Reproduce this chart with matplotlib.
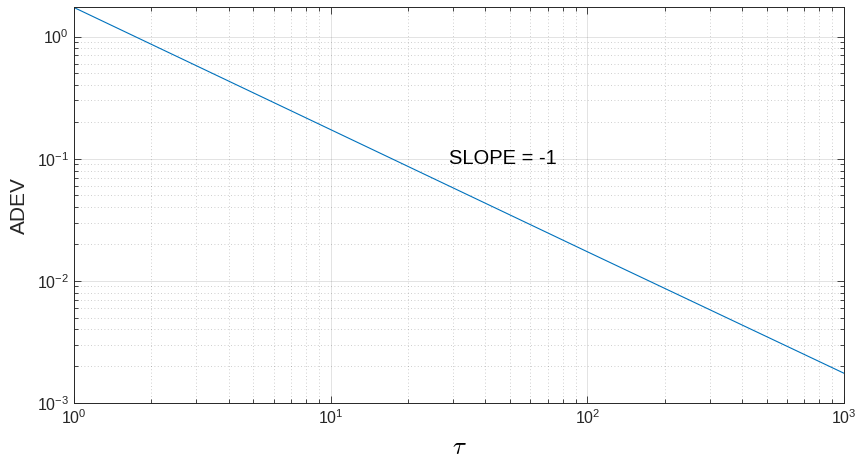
import matplotlib
matplotlib.use("Agg")
import matplotlib.pyplot as plt
import matplotlib.ticker as mticker
import numpy as np

# Allan deviation vs averaging time, slope -1 line
tau = [1, 10, 100, 1000]
adev = [1.73, 0.173, 0.0173, 0.00175]

note = "SLOPE = -1"
note_pos = (29, 0.1)

plt.rcParams['font.family'] = ['Liberation Sans', 'DejaVu Sans']

fig = plt.figure(figsize=(8.57, 4.65), dpi=100)
ax = fig.add_axes([0.0863, 0.1333, 0.8987, 0.8506])

ax.loglog(tau, adev, color='#0072BD', lw=0.8)
ax.set_xlim(1, 1000)
ax.set_ylim(1e-3, max(adev))

ax.text(note_pos[0], note_pos[1], note, fontsize=14.5, va='center', ha='left')

def pow_fmt(v, pos):
    e = int(round(np.log10(v)))
    return r'$\mathregular{10^{%d}}$' % e

for axis in (ax.xaxis, ax.yaxis):
    axis.set_major_locator(mticker.LogLocator(base=10, numticks=10))
    axis.set_minor_locator(mticker.LogLocator(base=10, subs=np.arange(2, 10), numticks=10))
    axis.set_major_formatter(mticker.FuncFormatter(pow_fmt))
    axis.set_minor_formatter(mticker.NullFormatter())

ax.grid(True, which='major', color='#262626', alpha=0.15, lw=0.6, ls='-')
ax.grid(True, which='minor', color='#262626', alpha=0.3, lw=0.6, ls=(0, (1, 3)))
ax.set_axisbelow(True)

ax.tick_params(which='both', direction='in', top=True, right=True, colors='#262626',
               width=0.6, labelsize=11.5, labelcolor='#262626')
ax.tick_params(which='major', length=5)
ax.tick_params(which='minor', length=3)
for s in ax.spines.values():
    s.set_color('#262626')
    s.set_linewidth(0.7)

ax.set_xlabel(r'$\tau$', fontsize=18, math_fontfamily='cm', labelpad=6)
ax.set_ylabel('ADEV', fontsize=15, color='#262626', labelpad=6)

fig.savefig('out.png', dpi=100)
